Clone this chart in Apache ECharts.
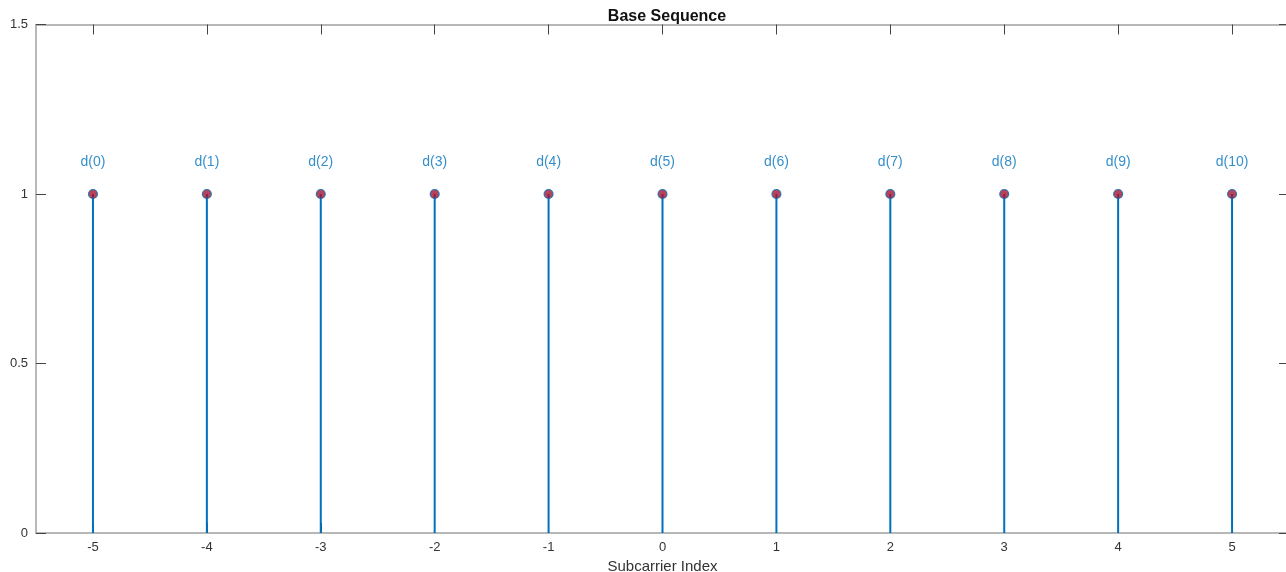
<!DOCTYPE html>
<html>
<head>
<meta charset="utf-8">
<script src="https://cdn.jsdelivr.net/npm/echarts@6/dist/echarts.min.js"></script>
<style>
html, body { margin: 0; padding: 0; background: #fff; }
#chart { width: 1286px; height: 572px; }
</style>
</head>
<body>
<div id="chart"></div>
<script>
// subcarrier indices and values of the base sequence
const subcarriers = [-5, -4, -3, -2, -1, 0, 1, 2, 3, 4, 5]
const values = [1, 1, 1, 1, 1, 1, 1, 1, 1, 1, 1]
const pointLabels = ['d(0)', 'd(1)', 'd(2)', 'd(3)', 'd(4)', 'd(5)', 'd(6)', 'd(7)', 'd(8)', 'd(9)', 'd(10)']
const xTicks = [-5, -4, -3, -2, -1, 0, 1, 2, 3, 4, 5]
const yTicks = [0, 0.5, 1, 1.5]

const font = 'Liberation Sans, Arial, sans-serif'
const stemColor = '#0072BD'

let chart = echarts.init(document.getElementById('chart'))
let points = subcarriers.map((x, i) => [x, values[i], pointLabels[i]])

let tickStyle = { show: true, inside: true, length: 10, lineStyle: { color: '#444', width: 1 } }
let lineStyle = { show: true, onZero: false, lineStyle: { color: '#a0a0a0', width: 1.5 } }

let option = {
    animation: false,
    title: {
        text: 'Base Sequence',
        left: 662,
        textAlign: 'center',
        top: 4,
        textStyle: { fontFamily: font, fontSize: 16, fontWeight: 'bold', color: '#111' }
    },
    grid: { left: 36, right: -3, top: 24.5, bottom: 39, outerBoundsMode: 'none' },
    xAxis: [{
        type: 'value',
        min: -5.5,
        max: 5.5,
        name: 'Subcarrier Index',
        nameLocation: 'middle',
        nameGap: 21,
        nameTextStyle: { fontFamily: font, fontSize: 15, color: '#333' },
        axisLine: lineStyle,
        axisTick: Object.assign({ customValues: xTicks }, tickStyle),
        axisLabel: { customValues: xTicks, fontFamily: font, fontSize: 13, color: '#333', margin: 8 },
        splitLine: { show: false }
    }, {
        type: 'value',
        position: 'top',
        min: -5.5,
        max: 5.5,
        axisLine: lineStyle,
        axisTick: Object.assign({ customValues: xTicks }, tickStyle),
        axisLabel: { show: false },
        splitLine: { show: false }
    }],
    yAxis: [{
        type: 'value',
        min: 0,
        max: 1.5,
        interval: 0.5,
        axisLine: lineStyle,
        axisTick: Object.assign({ customValues: yTicks }, tickStyle),
        axisLabel: { customValues: yTicks, fontFamily: font, fontSize: 13, color: '#333', margin: 8 },
        splitLine: { show: false }
    }, {
        type: 'value',
        position: 'right',
        min: 0,
        max: 1.5,
        interval: 0.5,
        axisLine: lineStyle,
        axisTick: Object.assign({ customValues: yTicks }, tickStyle),
        axisLabel: { show: false },
        splitLine: { show: false }
    }],
    series: [{
        name: 'stems',
        type: 'custom',
        xAxisIndex: 0,
        yAxisIndex: 0,
        z: 2,
        data: points,
        renderItem: (params, api) => {
            let top = api.coord([api.value(0), api.value(1)])
            let base = api.coord([api.value(0), 0])
            return {
                type: 'line',
                shape: { x1: base[0], y1: base[1], x2: top[0], y2: top[1] },
                style: { stroke: stemColor, lineWidth: 2 }
            }
        }
    }, {
        name: 'points',
        type: 'scatter',
        xAxisIndex: 0,
        yAxisIndex: 0,
        z: 3,
        symbol: 'circle',
        symbolSize: 9,
        data: points,
        itemStyle: { color: '#A2142F', borderColor: stemColor, borderWidth: 1.2 },
        label: {
            show: true,
            position: 'top',
            distance: 20,
            formatter: p => p.value[2],
            fontFamily: font,
            fontSize: 14,
            color: stemColor
        }
    }]
}
chart.setOption(option)
</script>
</body>
</html>
